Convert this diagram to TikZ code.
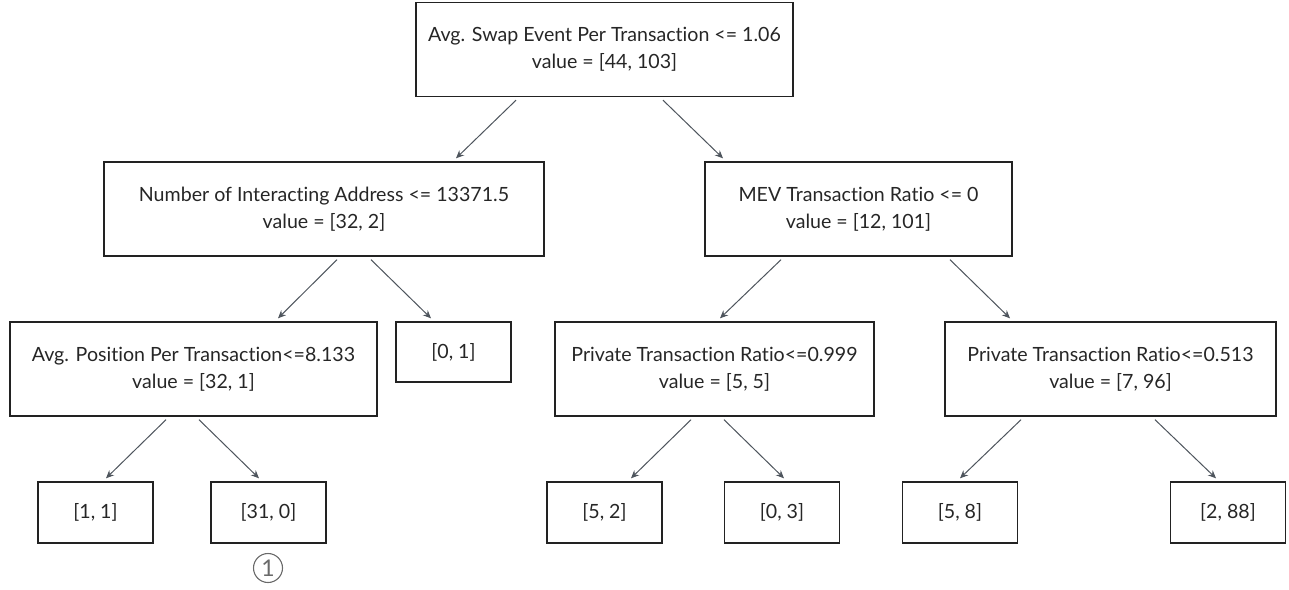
\documentclass[tikz,border=0pt]{standalone}
\usepackage{fontspec}
\setmainfont{Lato}[Ligatures=NoCommon]
\usetikzlibrary{arrows.meta}
\definecolor{boxline}{HTML}{222222}
\definecolor{txt}{HTML}{262626}
\definecolor{edge}{HTML}{4E555D}
\definecolor{mark}{HTML}{6A6A6A}
\tikzset{
  split/.style={draw=boxline, line width=1.4pt, rectangle, inner sep=0pt,
    align=center, text=txt, font=\fontsize{19.6}{27}\selectfont,
    minimum height=94pt},
  leaf/.style={split, minimum height=61pt, minimum width=115pt},
  edgearrow/.style={draw=edge, line width=1pt,
    -{Stealth[length=8pt,width=7pt]}},
  badge/.style={circle, draw=mark, line width=1.1pt, text=mark,
    minimum size=29pt, inner sep=0pt, font=\fontsize{23}{23}\selectfont}
}
\begin{document}
\begin{tikzpicture}[x=1pt,y=-1pt]
\useasboundingbox (0,0) rectangle (1289,589);

% internal splits
\node[split, minimum width=377pt] (root) at (604.5,49.5)
  {Avg. Swap Event Per Transaction <= 1.06\\value = [44, 103]};
\node[split, minimum width=440pt] (naddr) at (324,209)
  {Number of Interacting Address <= 13371.5\\value = [32, 2]};
\node[split, minimum width=307pt] (mev) at (858.5,209)
  {MEV Transaction Ratio <= 0\\value = [12, 101]};
\node[split, minimum width=367pt] (avgpos) at (193.5,369)
  {Avg. Position Per Transaction<=8.133\\value = [32, 1]};
\node[split, minimum width=319pt] (priv1) at (714.5,369)
  {Private Transaction Ratio<=0.999\\value = [5, 5]};
\node[split, minimum width=331pt] (priv2) at (1110.5,369)
  {Private Transaction Ratio<=0.513\\value = [7, 96]};

% leaves
\node[leaf, minimum height=60pt] (l01) at (453.5,352) {[0, 1]};
\node[leaf] (l11) at (95.5,512.5) {[1, 1]};
\node[leaf] (l310) at (268.5,512.5) {[31, 0]};
\node[leaf] (l52) at (604.5,512.5) {[5, 2]};
\node[leaf] (l03) at (782,512.5) {[0, 3]};
\node[leaf] (l58) at (960,512.5) {[5, 8]};
\node[leaf] (l288) at (1228,512.5) {[2, 88]};

% circled marker under a leaf
\node[badge] (mk) at (268,568) {1};

% edges
\draw[edgearrow] ([xshift=-88.5pt,yshift=-3pt]root.south) -- ([xshift=132pt,yshift=3pt]naddr.north);
\draw[edgearrow] ([xshift=58.5pt,yshift=-3pt]root.south) -- ([xshift=-135.5pt,yshift=3pt]mev.north);
\draw[edgearrow] ([xshift=13pt,yshift=-3pt]naddr.south) -- ([xshift=84.5pt,yshift=3pt]avgpos.north);
\draw[edgearrow] ([xshift=47pt,yshift=-3pt]naddr.south) -- ([xshift=-22.5pt,yshift=3pt]l01.north);
\draw[edgearrow] ([xshift=-77.5pt,yshift=-3pt]mev.south) -- ([xshift=5.5pt,yshift=3pt]priv1.north);
\draw[edgearrow] ([xshift=91.5pt,yshift=-3pt]mev.south) -- ([xshift=-100.5pt,yshift=3pt]priv2.north);
\draw[edgearrow] ([xshift=-27.5pt,yshift=-3pt]avgpos.south) -- ([xshift=10.5pt,yshift=3pt]l11.north);
\draw[edgearrow] ([xshift=5.5pt,yshift=-3pt]avgpos.south) -- ([xshift=-9.5pt,yshift=3pt]l310.north);
\draw[edgearrow] ([xshift=-23.5pt,yshift=-3pt]priv1.south) -- ([xshift=26.5pt,yshift=3pt]l52.north);
\draw[edgearrow] ([xshift=9.5pt,yshift=-3pt]priv1.south) -- ([xshift=2pt,yshift=3pt]l03.north);
\draw[edgearrow] ([xshift=-89.5pt,yshift=-3pt]priv2.south) -- ([xshift=0pt,yshift=3pt]l58.north);
\draw[edgearrow] ([xshift=44.5pt,yshift=-3pt]priv2.south) -- ([xshift=-12pt,yshift=3pt]l288.north);
\end{tikzpicture}
\end{document}
